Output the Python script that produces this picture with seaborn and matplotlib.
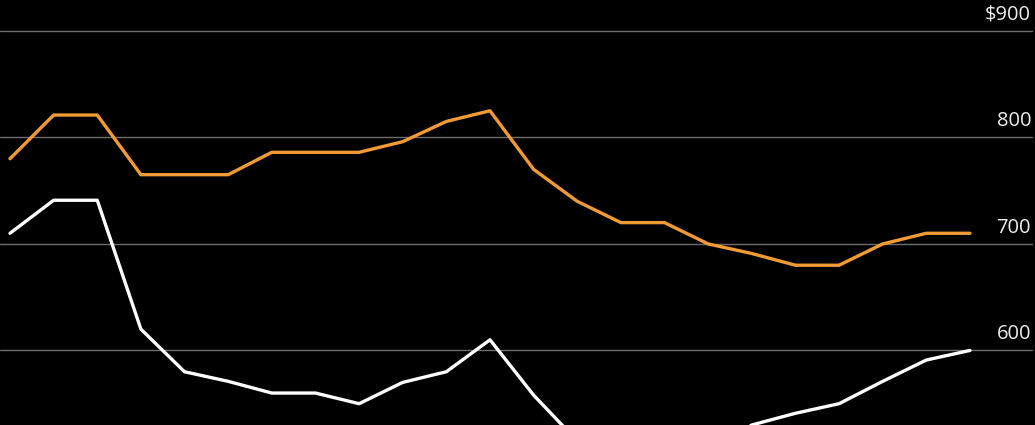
import matplotlib
matplotlib.use("Agg")
import matplotlib.pyplot as plt
import seaborn as sns
import pandas as pd
import numpy as np

periods = list(range(23))
orange_vals = [780, 821, 821, 765, 765, 765, 786, 786, 786, 796, 815, 825, 770, 740,
               720, 720, 700, 691, 680, 680, 700, 710, 710]
white_vals = [710, 741, 741, 620, 580, 571, 560, 560, 550, 570, 580, 610, 558, 515,
              500, 495, 505, 530, 541, 550, 571, 591, 600]
tick_values = [600, 700, 800, 900]
tick_labels = ["600", "700", "800", "$900"]

df = pd.DataFrame({
    "period": periods * 2,
    "value": orange_vals + white_vals,
    "series": ["orange"] * len(periods) + ["white"] * len(periods),
})

sns.set_theme(style="dark")
plt.rcParams["font.family"] = ["Open Sans", "DejaVu Sans"]

fig = plt.figure(figsize=(10.35, 4.25), dpi=100, facecolor="black")
ax = fig.add_axes([0, 0, 1, 1])
ax.set_facecolor("black")

for v in tick_values:
    ax.axhline(v, color="#6e6e6e", lw=1.0, zorder=1, xmax=0.997)

sns.lineplot(data=df, x="period", y="value", hue="series",
             palette={"orange": "#f29b34", "white": "#ffffff"},
             linewidth=2.4, legend=False, ax=ax, zorder=3)

ax.set_xlim(-0.229, 23.49)
ax.set_ylim(530, 929)
ax.set_xticks([])
ax.set_yticks([])
ax.set_xlabel("")
ax.set_ylabel("")
for s in ax.spines.values():
    s.set_visible(False)

trans = matplotlib.transforms.blended_transform_factory(ax.transAxes, ax.transData)
for v, lab in zip(tick_values, tick_labels):
    ax.text(1 - 4 / 1035, v + 6, lab, transform=trans, ha="right", va="bottom",
            color="#eeeeee", fontsize=14.5)

fig.savefig("out.png", dpi=100, facecolor="black")
